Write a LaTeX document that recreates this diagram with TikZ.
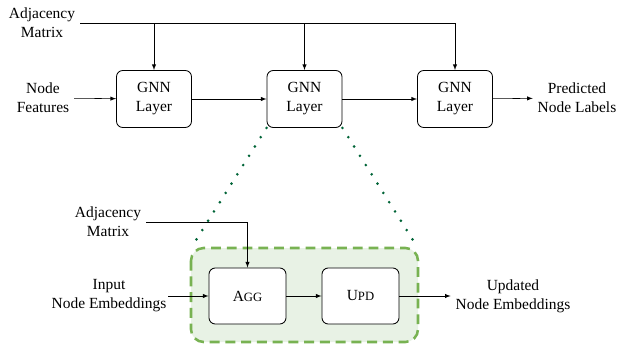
\documentclass[tikz,border=0pt]{standalone}
\usepackage{fontspec}
\setmainfont{Liberation Serif}
\usepackage{xcolor}

\definecolor{dashgreen}{RGB}{120,178,82}
\definecolor{fillgreen}{RGB}{232,242,229}
\definecolor{dotgreen}{RGB}{0,100,55}

\newcommand{\mysc}[2]{#1{\fontsize{9}{10}\selectfont #2}}

\begin{document}
\begin{tikzpicture}[x=0.025cm, y=-0.025cm, >=latex,
    font=\fontsize{11}{13.5}\selectfont,
    layer/.style={draw, line width=0.6pt, rounded corners=4.5pt, fill=white,
        minimum width=1.875cm, minimum height=1.425cm, align=center},
    op/.style={layer, minimum width=1.925cm, minimum height=1.4cm},
    lbl/.style={align=center}]
    \useasboundingbox (0,0) rectangle (619,343);

    % zoomed-in part, drawn first so the boxes sit on it
    \fill[fillgreen, rounded corners=9pt] (191,248) rectangle (418,342);
    \draw[dashgreen, line width=1.8pt, dash pattern=on 7pt off 4.2pt,
        rounded corners=9pt] (191,248) rectangle (418,342);
    \coordinate (gtl) at (191,248);
    \coordinate (gtr) at (418,248);

    % top row
    \node[layer] (gnn1) at (154,99) {GNN\\Layer};
    \node[layer] (gnn2) at (304.5,99) {GNN\\Layer};
    \node[layer] (gnn3) at (455,99) {GNN\\Layer};

    \node[lbl] (adjtop) at (42,23) {Adjacency\\Matrix};
    \node[lbl] (feat) at (43,98) {Node\\Features};
    \node[lbl] (pred) at (577,98) {Predicted\\Node Labels};

    \draw (adjtop.east) -- (gnn3.north |- adjtop.east);
    \foreach \n in {gnn1,gnn2,gnn3}
        \draw[->] (\n.north |- adjtop.east) -- (\n.north);
    \draw[->] (feat) -- (gnn1);
    \draw[->] (gnn1) -- (gnn2);
    \draw[->] (gnn2) -- (gnn3);
    \draw[->] (gnn3) -- (pred);

    % dotted zoom lines
    \draw[dotgreen, line width=2.1pt, line cap=round, dash pattern=on 0pt off 7.8pt]
        (gnn2.south west) -- (gtl);
    \draw[dotgreen, line width=2.1pt, line cap=round, dash pattern=on 0pt off 7.8pt]
        (gnn2.south east) -- (gtr);

    % inside one layer
    \node[op] (agg) at (247.5,296) {\mysc{A}{GG}};
    \node[op] (upd) at (360.5,296) {\mysc{U}{PD}};

    \node[lbl] (adjbot) at (108,222) {Adjacency\\Matrix};
    \node[lbl, inner sep=1pt] (inp) at (109,296) {Input\\Node Embeddings};
    \node[lbl] (outp) at (513,296) {Updated\\Node Embeddings};

    \draw[->] (adjbot.east) -| (agg.north);
    \draw[->] (inp) -- (agg);
    \draw[->] (agg) -- (upd);
    \draw[->] (upd) -- (outp);
\end{tikzpicture}
\end{document}
